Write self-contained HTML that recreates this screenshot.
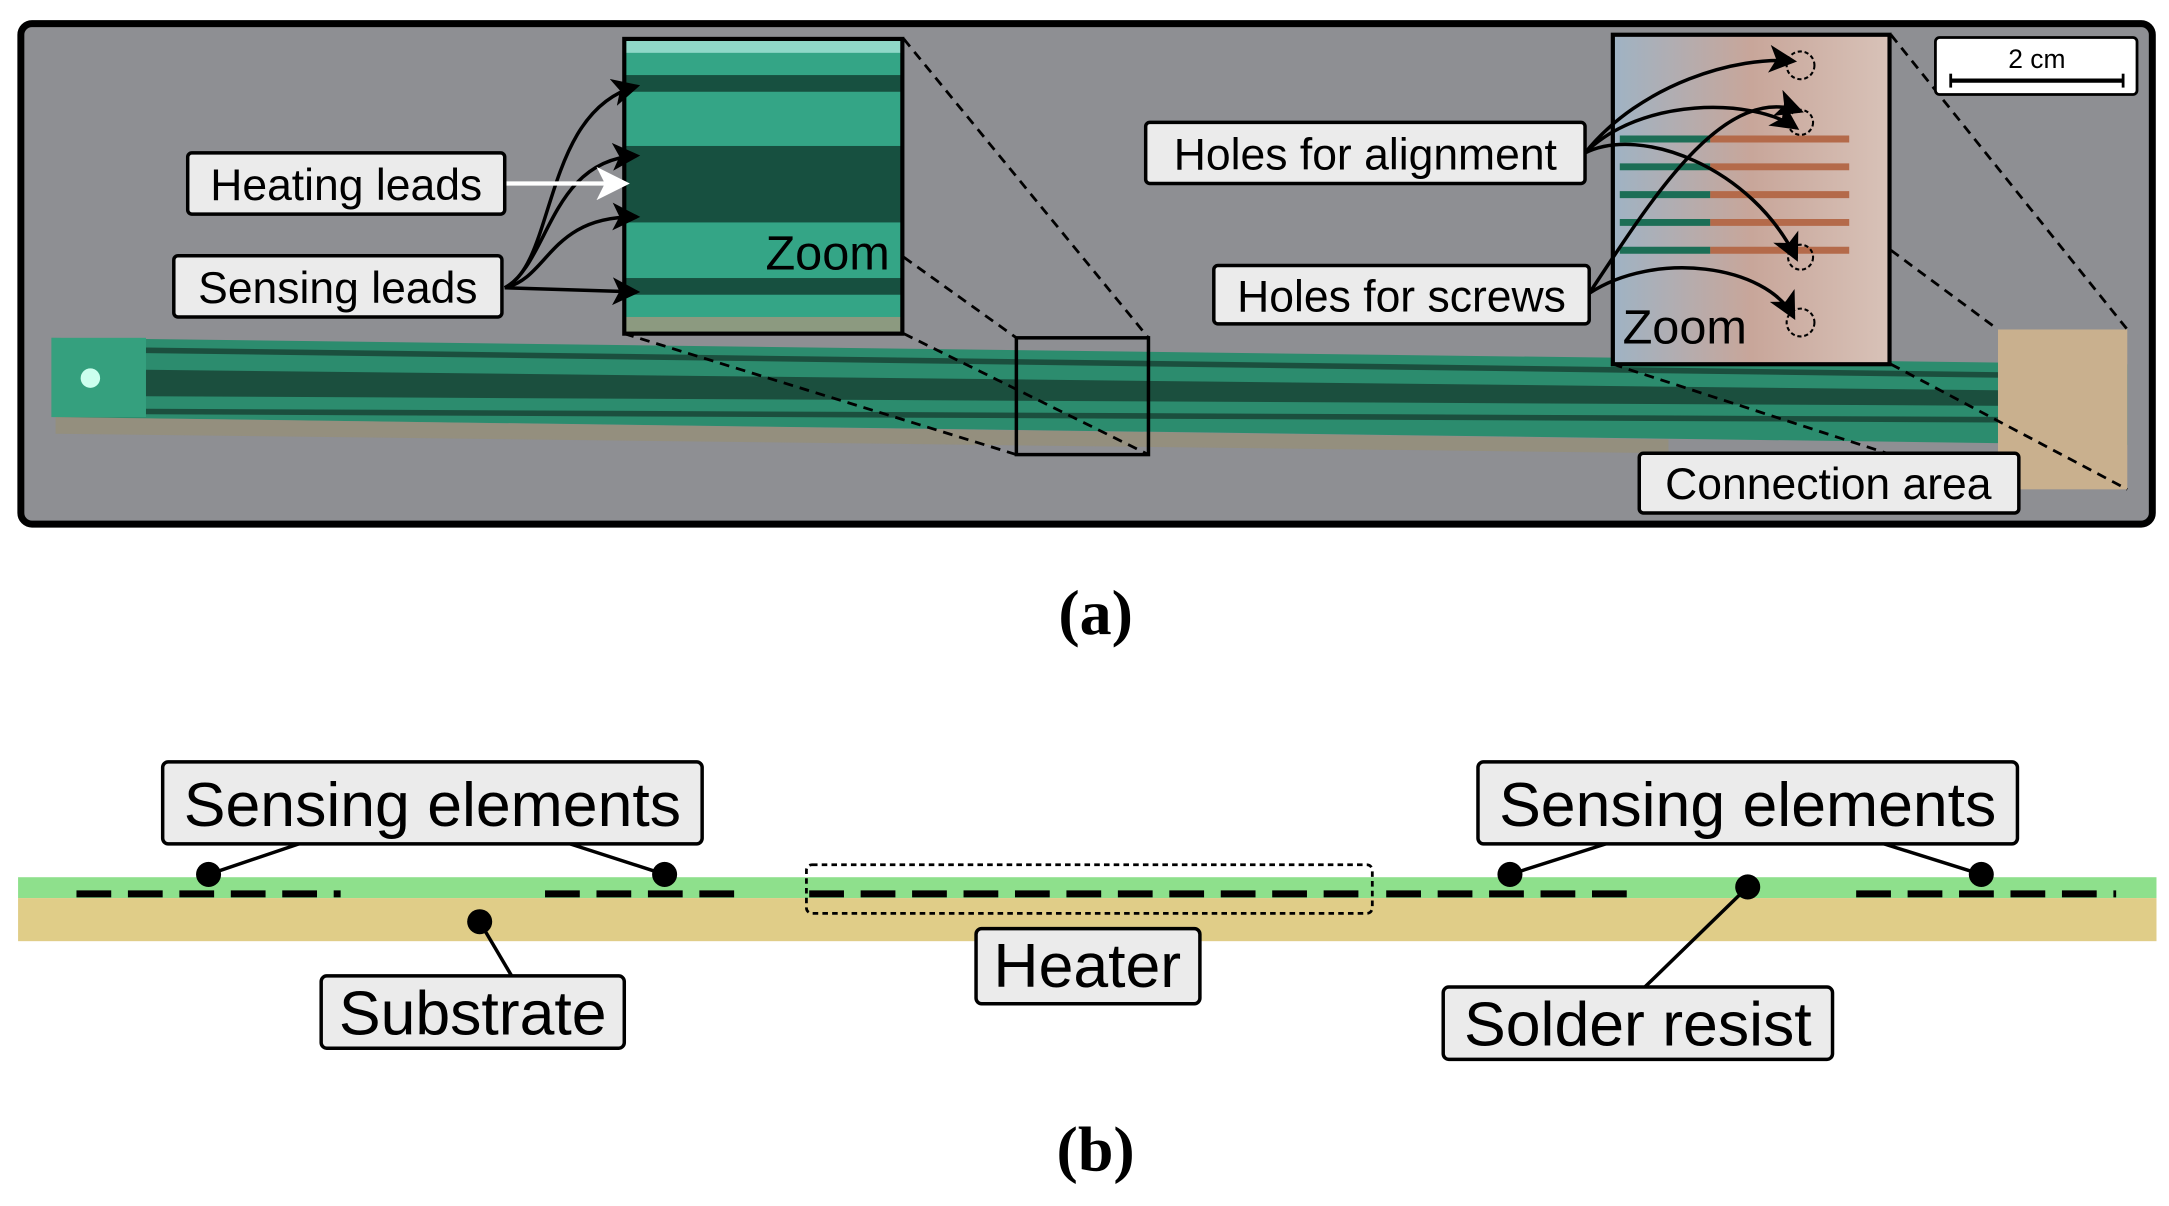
<!DOCTYPE html>
<html><head><meta charset="utf-8"><style>html,body{margin:0;padding:0;background:#fff}svg{display:block}</style></head><body>
<svg width="2169" height="1206" viewBox="0 0 1560 867.5" preserveAspectRatio="none" xmlns="http://www.w3.org/2000/svg" font-family="Liberation Sans, sans-serif">
<defs>
<marker id="ah" markerWidth="8" markerHeight="8" refX="7" refY="4" orient="auto" markerUnits="strokeWidth"><path d="M0,0 L8,4 L0,8 L2,4z" fill="#000"/></marker>
<marker id="aw" markerWidth="8" markerHeight="8" refX="7" refY="4" orient="auto" markerUnits="strokeWidth"><path d="M0,0 L8,4 L0,8 L2,4z" fill="#fff"/></marker>
<linearGradient id="pink" x1="0" x2="1"><stop offset="0" stop-color="#9fb3c4"/><stop offset="0.5" stop-color="#c8a69a"/><stop offset="1" stop-color="#d8c2b8"/></linearGradient>
</defs>
<rect x="15" y="17" width="1533" height="360" rx="8" fill="#8e8f93" stroke="#000" stroke-width="5"/>
<path d="M37,243 L1530,262 L1530,320 L37,300z" fill="#2c8c6e"/>
<path d="M40,300 L1200,316 L1200,326 L40,312z" fill="#9a8f6a" opacity="0.5"/>
<rect x="37" y="243" width="68" height="57" fill="#35a07e"/>
<circle cx="65" cy="272" r="7" fill="#cfe"/>
<path d="M105,250 L1460,268 L1460,272 L105,254z" fill="#1b4f3e"/>
<path d="M105,266 L1460,281 L1460,292 L105,285z" fill="#1b4f3e"/>
<path d="M105,294 L1460,300 L1460,304 L105,298z" fill="#1b4f3e"/>
<rect x="1437" y="237" width="93" height="115" fill="#c9b08e"/>
<rect x="449" y="28" width="200" height="212" fill="#34a586"/>
<rect x="449" y="28" width="200" height="10" fill="#8fd8c8"/>
<rect x="449" y="54" width="200" height="12" fill="#175040"/>
<rect x="449" y="105" width="200" height="55" fill="#175040"/>
<rect x="449" y="200" width="200" height="12" fill="#175040"/>
<rect x="449" y="228" width="200" height="12" fill="#8c9a80"/>
<rect x="449" y="28" width="200" height="212" fill="none" stroke="#000" stroke-width="3"/>
<text x="640" y="194" font-size="35" text-anchor="end" fill="#000">Zoom</text>
<rect x="731" y="243" width="95" height="84" fill="none" stroke="#000" stroke-width="2.5"/>
<g stroke="#000" stroke-width="2" stroke-dasharray="7,5" fill="none">
<line x1="650" y1="28" x2="826" y2="243"/><line x1="650" y1="185" x2="731" y2="243"/>
<line x1="449" y1="240" x2="731" y2="327"/><line x1="650" y1="240" x2="826" y2="327"/>
<line x1="1360" y1="25" x2="1530" y2="237"/><line x1="1360" y1="180" x2="1437" y2="237"/>
<line x1="1160" y1="262" x2="1437" y2="352"/><line x1="1360" y1="262" x2="1530" y2="352"/>
</g>
<rect x="1160" y="25" width="199" height="237" fill="url(#pink)"/>
<g stroke="#b46a4a" stroke-width="5"><line x1="1230" y1="100" x2="1330" y2="100"/><line x1="1230" y1="120" x2="1330" y2="120"/><line x1="1230" y1="140" x2="1330" y2="140"/><line x1="1230" y1="160" x2="1330" y2="160"/><line x1="1230" y1="180" x2="1330" y2="180"/></g>
<g stroke="#1c6e56" stroke-width="5"><line x1="1165" y1="100" x2="1230" y2="100"/><line x1="1165" y1="120" x2="1230" y2="120"/><line x1="1165" y1="140" x2="1230" y2="140"/><line x1="1165" y1="160" x2="1230" y2="160"/><line x1="1165" y1="180" x2="1230" y2="180"/></g>
<rect x="1160" y="25" width="199" height="237" fill="none" stroke="#000" stroke-width="3"/>
<text x="1167" y="247" font-size="35" fill="#000">Zoom</text>
<g fill="none" stroke="#000" stroke-width="1.5" stroke-dasharray="3,2"><circle cx="1295" cy="47" r="10"/><circle cx="1295" cy="88" r="9"/><circle cx="1295" cy="185" r="9"/><circle cx="1295" cy="232" r="10"/></g>
<rect x="1392" y="27" width="145" height="41" rx="3" fill="#fff" stroke="#000" stroke-width="2"/>
<text x="1465" y="49" font-size="19" text-anchor="middle">2 cm</text>
<line x1="1403" y1="58" x2="1527" y2="58" stroke="#000" stroke-width="3"/>
<line x1="1403" y1="53" x2="1403" y2="63" stroke="#000" stroke-width="2"/><line x1="1527" y1="53" x2="1527" y2="63" stroke="#000" stroke-width="2"/>
<g fill="none" stroke="#000" stroke-width="2.5" marker-end="url(#ah)">
<path d="M363,207 C400,190 390,80 458,62"/>
<path d="M363,207 C395,190 395,115 458,112"/>
<path d="M363,207 C395,200 395,155 458,156"/>
<path d="M363,207 L458,210"/>
<path d="M1140,110 C1180,60 1250,40 1290,44"/>
<path d="M1140,110 C1180,70 1260,70 1292,92"/>
<path d="M1140,110 C1180,90 1260,120 1292,186"/>
<path d="M1143,211 C1190,140 1240,60 1295,80"/>
<path d="M1143,211 C1190,180 1270,190 1290,228"/>
</g>
<line x1="363" y1="132" x2="450" y2="132" stroke="#fff" stroke-width="3" marker-end="url(#aw)"/>
<g fill="#ebebeb" stroke="#000" stroke-width="2.5">
<rect x="135" y="110" width="228" height="44" rx="3"/>
<rect x="125" y="184" width="236" height="44" rx="3"/>
<rect x="824" y="88" width="316" height="44" rx="3"/>
<rect x="873" y="191" width="270" height="42" rx="3"/>
<rect x="1179" y="326" width="273" height="43" rx="3"/>
</g>
<g font-size="32" text-anchor="middle" fill="#000">
<text x="249" y="144">Heating leads</text>
<text x="243" y="218">Sensing leads</text>
<text x="982" y="122">Holes for alignment</text>
<text x="1008" y="224">Holes for screws</text>
<text x="1315" y="359">Connection area</text>
</g>
<text x="788" y="456" font-family="Liberation Serif, serif" font-weight="bold" font-size="46" text-anchor="middle">(a)</text>
<rect x="13" y="631" width="1538" height="15" fill="#8ee08c"/>
<rect x="13" y="646" width="1538" height="31" fill="#e0cd88"/>
<g stroke="#000" stroke-width="5" stroke-dasharray="25,12">
<line x1="55" y1="643" x2="245" y2="643"/><line x1="392" y1="643" x2="535" y2="643"/><line x1="582" y1="643" x2="985" y2="643"/><line x1="997" y1="643" x2="1178" y2="643"/><line x1="1335" y1="643" x2="1522" y2="643"/>
</g>
<rect x="580" y="622" width="407" height="35" rx="4" fill="none" stroke="#000" stroke-width="2" stroke-dasharray="4,3"/>
<g stroke="#000" stroke-width="2.5">
<line x1="150" y1="629" x2="215" y2="607"/><line x1="478" y1="629" x2="410" y2="607"/>
<line x1="1086" y1="629" x2="1155" y2="607"/><line x1="1425" y1="629" x2="1355" y2="607"/>
<line x1="345" y1="663" x2="368" y2="702"/><line x1="1257" y1="638" x2="1183" y2="710"/>
</g>
<g fill="#000"><circle cx="150" cy="629" r="9"/><circle cx="478" cy="629" r="9"/><circle cx="1086" cy="629" r="9"/><circle cx="1425" cy="629" r="9"/><circle cx="345" cy="663" r="9"/><circle cx="1257" cy="638" r="9"/></g>
<g fill="#ebebeb" stroke="#000" stroke-width="2.5">
<rect x="117" y="548" width="388" height="59" rx="4"/>
<rect x="1063" y="548" width="388" height="59" rx="4"/>
<rect x="231" y="702" width="218" height="52" rx="4"/>
<rect x="702" y="668" width="161" height="54" rx="4"/>
<rect x="1038" y="710" width="280" height="52" rx="4"/>
</g>
<g font-size="45" text-anchor="middle" fill="#000">
<text x="311" y="594">Sensing elements</text>
<text x="1257" y="594">Sensing elements</text>
<text x="340" y="744">Substrate</text>
<text x="782" y="710">Heater</text>
<text x="1178" y="752">Solder resist</text>
</g>
<text x="788" y="842" font-family="Liberation Serif, serif" font-weight="bold" font-size="46" text-anchor="middle">(b)</text>
</svg>
</body></html>
